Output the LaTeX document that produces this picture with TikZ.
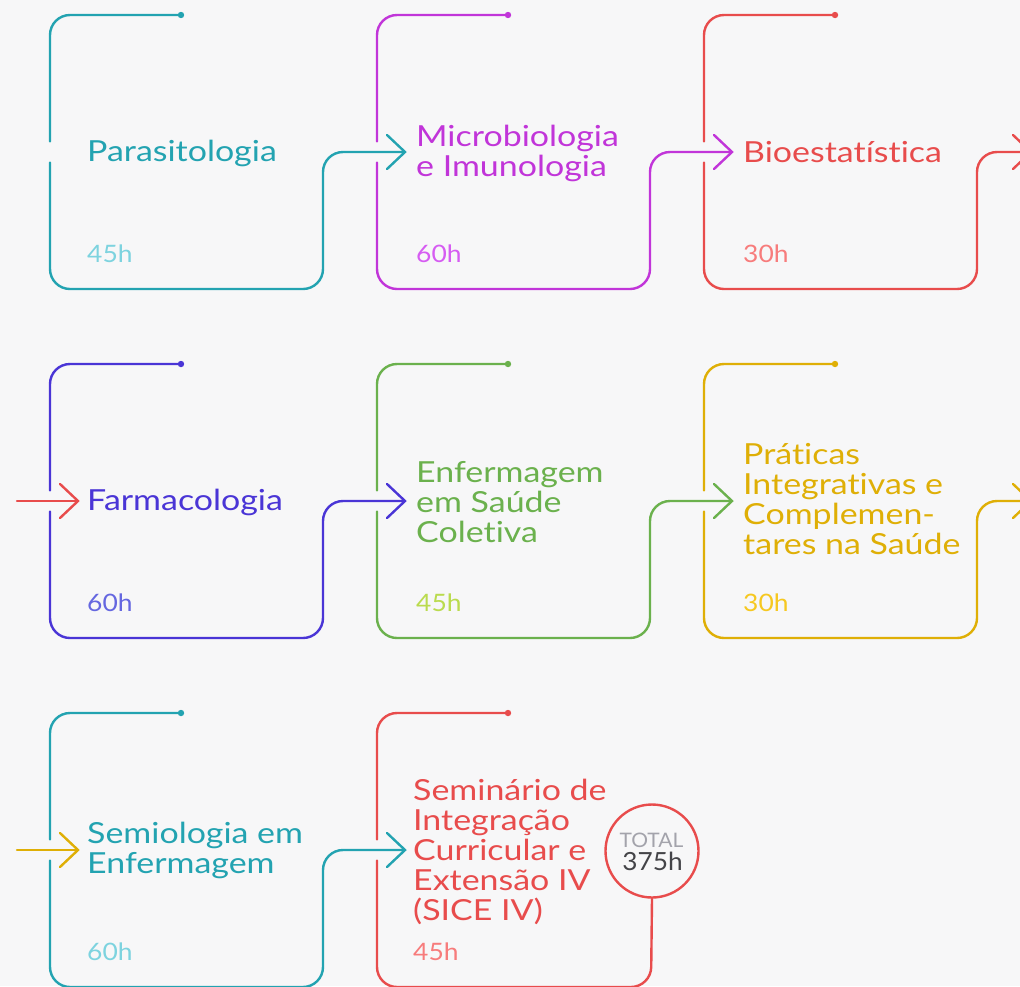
\documentclass[tikz,border=0pt]{standalone}
\usepackage{fontspec}
\setmainfont{Lato}
\newfontfamily\tfont[FakeStretch=1.17,Ligatures=NoCommon]{Lato}
\newfontfamily\hfont[FakeStretch=1.1,Ligatures=NoCommon]{Lato}
\newfontfamily\cfont[FakeStretch=1.05,Ligatures=NoCommon]{Lato}
\definecolor{bgc}{HTML}{F7F7F8}
\definecolor{cteal}{HTML}{23A3B1}
\definecolor{cteall}{HTML}{7DD3DF}
\definecolor{cpurp}{HTML}{C135D9}
\definecolor{cpurpl}{HTML}{D65CF2}
\definecolor{cred}{HTML}{E84C4C}
\definecolor{credl}{HTML}{F77C7C}
\definecolor{cblue}{HTML}{4A35D6}
\definecolor{cbluel}{HTML}{6567E0}
\definecolor{cgreen}{HTML}{6BB14D}
\definecolor{cgreenl}{HTML}{BADB4E}
\definecolor{cyel}{HTML}{DFAF06}
\definecolor{cyell}{HTML}{F6C820}
\definecolor{cgrayt}{HTML}{A3A3AB}
\definecolor{cdark}{HTML}{444448}
\tikzset{
  card/.style={line width=2.4pt, rounded corners=20pt, line cap=round},
  chev/.style={line width=2.4pt, line cap=round, line join=miter},
  title/.style={anchor=base west, inner sep=0pt, font=\tfont\fontsize{29}{30}\selectfont},
  hours/.style={anchor=base west, inner sep=0pt, font=\hfont\fontsize{24}{26}\selectfont},
}
\newcommand\stk[1]{\vtop{\baselineskip=30pt\lineskiplimit=-60pt\lineskip=0pt #1}}
% card: color, L, T, A, B, R, tip
\newcommand\crd[7]{%
  \draw[card,#1] (#2+131,#3) -- (#2,#3) -- (#2,#4-10.5);
  \fill[#1] (#2+131,#3) circle (3.2pt);
  \draw[card,#1] (#2,#4+10.5) -- (#2,#5) -- (#6,#5) -- (#6,#4) -- (#7);
  \draw[chev,#1] ([shift={(-18,-17)}]#7) -- (#7) -- ([shift={(-18,17)}]#7);
}
\begin{document}
\begin{tikzpicture}[x=1pt,y=-1pt]
\useasboundingbox (0,0) rectangle (1020,986);
\clip (0,0) rectangle (1020,986);
\fill[bgc] (0,0) rectangle (1020,986);

% tips
\coordinate (t1) at (405,152);
\coordinate (t2) at (732,152);
\coordinate (t3) at (1031,152);
\coordinate (s4) at (17,501);
\coordinate (t4) at (78,501);
\coordinate (t5) at (405,501);
\coordinate (t6) at (732,501);
\coordinate (t7) at (1031,501);
\coordinate (s8) at (17,850);
\coordinate (t8) at (78,850);
\coordinate (t9) at (405,850);

% row 1
\crd{cteal}{50}{15}{152}{289}{323}{t1}
\crd{cpurp}{377}{15}{152}{289}{650}{t2}
\crd{cred}{704}{15}{152}{289}{977}{t3}
% row 2
\draw[chev,cred] (s4) -- (t4);
\draw[chev,cred] ([shift={(-18,-17)}]t4) -- (t4) -- ([shift={(-18,17)}]t4);
\crd{cblue}{50}{364}{501}{638}{323}{t5}
\crd{cgreen}{377}{364}{501}{638}{650}{t6}
\crd{cyel}{704}{364}{501}{638}{977}{t7}
% row 3
\draw[chev,cyel] (s8) -- (t8);
\draw[chev,cyel] ([shift={(-18,-17)}]t8) -- (t8) -- ([shift={(-18,17)}]t8);
\crd{cteal}{50}{713}{850}{987}{323}{t9}
% last card
\draw[card,cred] (508,713) -- (377,713) -- (377,839.5);
\fill[cred] (508,713) circle (3.2pt);
\node[circle, draw=cred, line width=2.4pt, minimum size=93pt, inner sep=0pt] (total) at (652,851) {};
\draw[card,cred] (377,860.5) -- (377,987) -- (651,987) -- (total.south);
\node[anchor=base, inner sep=0pt, text=cgrayt, font=\cfont\fontsize{20}{20}\selectfont] (totl) at (651.5,847) {TOTAL};
\node[anchor=base, inner sep=0pt, text=cdark, font=\cfont\fontsize{25}{25}\selectfont] (toth) at (652.5,870) {375h};

% titles
\node[title,text=cteal] (n1) at (87,161) {Parasitologia};
\node[title,text=cpurp] (n2) at (416,146) {\stk{\hbox{Microbiologia}\hbox{e Imunologia}}};
\node[title,text=cred] (n3) at (743,162) {Bioestatística};
\node[title,text=cblue] (n4) at (87,510) {Farmacologia};
\node[title,text=cgreen] (n5) at (416,482) {\stk{\hbox{Enfermagem}\hbox{em Saúde}\hbox{Coletiva}}};
\node[title,text=cyel] (n6) at (743,464) {\stk{\hbox{Práticas}\hbox{Integrativas e}\hbox{Complemen-}\hbox{tares na Saúde}}};
\node[title,text=cteal] (n7) at (87,843) {\stk{\hbox{Semiologia em}\hbox{Enfermagem}}};
\node[title,text=cred] (n8) at (413,800) {\stk{\hbox{Seminário de}\hbox{Integração}\hbox{Curricular e}\hbox{Extensão IV}\hbox{(SICE IV)}}};

% hours
\node[hours,text=cteall] (h1) at (87,262) {45h};
\node[hours,text=cpurpl] (h2) at (416,262) {60h};
\node[hours,text=credl] (h3) at (743,262) {30h};
\node[hours,text=cbluel] (h4) at (87,611) {60h};
\node[hours,text=cgreenl] (h5) at (416,611) {45h};
\node[hours,text=cyell] (h6) at (743,611) {30h};
\node[hours,text=cteall] (h7) at (87,960) {60h};
\node[hours,text=credl] (h8) at (413,960) {45h};
\end{tikzpicture}
\end{document}
